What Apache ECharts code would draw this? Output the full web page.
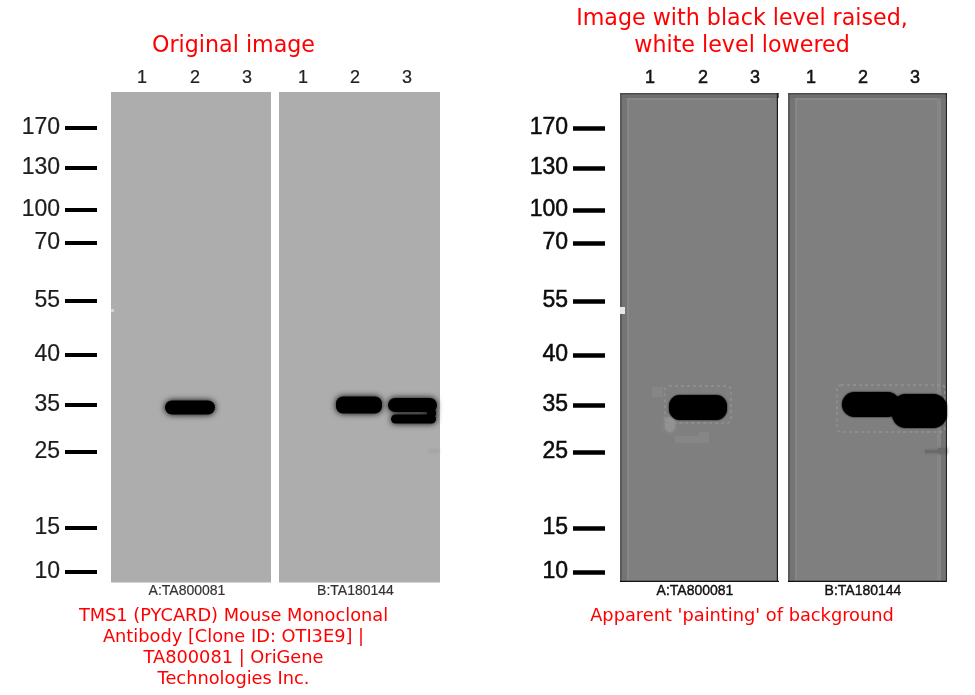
<!DOCTYPE html>
<html><head><meta charset="utf-8">
<style>html,body{margin:0;padding:0;background:#fff}#c{width:975px;height:695px}</style>
<script src="https://cdn.jsdelivr.net/npm/echarts@6/dist/echarts.min.js"></script>
</head><body><div id="c"></div>
<script>
// Molecular-weight ladder: kDa and migration distance down the blot
const ladderKDa = [170,130,100,70,55,40,35,25,15,10];
const ladderMigration = [36,76,118,151,209,263,313,360,436,480];
const laneNames = ['1','2','3'];
const lanesA = [31,84,136];
const lanesB = [24,76,128];
const lanesRightA = [30,83,135];
const lanesRightB = [23,75,127];
// Bands: [from, to (across blot), top, bottom (migration)]
const bandsOrigA = [[54,104,308.5,322.5]];
const bandsOrigB = [[57,103,304.5,321.5],[109,158,306,320],[112,157,322.5,331.5],[148,157,316,326]];
const bandsRaisedA = [[49,107,303,328]];
const bandsRaisedB = [[54,112,300,325],[104,159,302,336]];
// Speckled halos and faint patches in the contrast-stretched image
const halosA = [[45,111,294,331]];
const halosB = [[49,157,293,340]];
const patchesLightA = [[32,43,295,305],[55,80,344,351],[79,89,340,351]];
const blobLightA = [[45,55,325,340]];
const smudgesRightB = [[137,150,358,361],[150,159,356,362]];
const smudgeOrigB = [[150,160,357,361]];
const notchOrigA = [[0,3,217,220]];
const notchRaisedA = [[0,5,215,222]];
const edgeOuterLeft = [[0,2,1,490]];
const edgeInnerLeft = [[2,7,1,490]];
const edgeLightLeft = [[7,9,8,490]];
const edgeRightBStrip = [[149,153,8,490]];
const edgeRightBLight = [[153,157,1,490]];
const edgeTopDark = [[0,159,1,2.5]];
const edgeTopMid = [[0,159,2.5,6]];
const edgeTopLight = [[7,150,6,8]];
const frameBottom = [[0,159,488.7,490]];
const frameRight = [[156.8,158,1,490]];
const frameRightB = [[157.8,159,1,490]];

const bgOrig = '#adadad', bgRaised = '#7f7f7f';

function rects(gridIdx, data, style, shapeR, z){
  return {type:'custom', xAxisIndex:gridIdx, yAxisIndex:gridIdx, z:z||3, silent:true,
    data, encode:{x:[0,1], y:[2,3]},
    renderItem(params, api){
      const a = api.coord([api.value(0), api.value(2)]);
      const b = api.coord([api.value(1), api.value(3)]);
      const w = b[0]-a[0], h = b[1]-a[1];
      return {type:'rect', shape:{x:a[0],y:a[1],width:w,height:h,r:shapeR?Math.min(h/2,shapeR):0}, style};
    }};
}

const panels = [
  {left:111,right:271,top:92,bottom:582.5,min:0,max:490.5,bg:bgOrig,lanes:lanesA,lane:'#222',margin:5,heavy:0.2},
  {left:279,right:440,top:92,bottom:582.5,min:0,max:490.5,bg:bgOrig,lanes:lanesB,lane:'#222',margin:5,heavy:0.2},
  {left:620,right:778,top:93,bottom:582,min:1,max:490,bg:bgRaised,lanes:lanesRightA,lane:'#111',margin:6,heavy:0.5},
  {left:788,right:947,top:93,bottom:582,min:1,max:490,bg:bgRaised,lanes:lanesRightB,lane:'#111',margin:6,heavy:0.5}
];
const ladders = [
  {left:65,width:32,top:92,height:490.5,min:0,max:490.5,tick:4,color:'#1c1c1c',heavy:0.2},
  {left:573,width:32,top:93,height:489,min:1,max:490,tick:4.5,color:'#0c0c0c',heavy:0.5}
];
const toKDa = v => { const i = ladderMigration.indexOf(v); return i<0?'':String(ladderKDa[i]); };

const option = {
  animation:false, backgroundColor:'#fff',
  grid: panels.map(p=>({left:p.left,top:p.top,width:p.right-p.left,height:p.bottom-p.top,show:true,backgroundColor:p.bg,borderWidth:0}))
    .concat(ladders.map(l=>({left:l.left,top:l.top,width:l.width,height:l.height,show:false}))),
  xAxis: panels.map((p,i)=>({gridIndex:i,type:'value',position:'top',min:0,max:p.right-p.left,
    axisLine:{show:false},axisTick:{show:false},splitLine:{show:false},
    axisLabel:{show:true,customValues:p.lanes,margin:p.margin,fontFamily:'Liberation Sans',fontSize:18,color:p.lane,
      textBorderColor:p.lane,textBorderWidth:p.heavy,formatter:v=>laneNames[p.lanes.indexOf(v)]}}))
    .concat(ladders.map((l,i)=>({gridIndex:4+i,type:'value',show:false,min:0,max:1}))),
  yAxis: panels.map((p,i)=>({gridIndex:i,type:'value',inverse:true,min:p.min,max:p.max,show:false}))
    .concat(ladders.map((l,i)=>({gridIndex:4+i,type:'value',inverse:true,position:'left',min:l.min,max:l.max,
      axisLine:{show:false},splitLine:{show:false},
      axisTick:{show:true,inside:true,customValues:ladderMigration,length:32,lineStyle:{color:'#000',width:l.tick}},
      axisLabel:{show:true,inside:false,customValues:ladderMigration,margin:5,padding:[2,0,0,0],fontFamily:'Liberation Sans',fontSize:23,color:l.color,
        textBorderColor:l.color,textBorderWidth:l.heavy,formatter:toKDa}}))),
  series: [
    rects(0,bandsOrigA,{fill:'#000',shadowBlur:6,shadowColor:'#000'},7),
    rects(1,bandsOrigB,{fill:'#000',shadowBlur:6,shadowColor:'#000'},7),
    rects(1,smudgeOrigB,{fill:'#a6a6a6',shadowBlur:3,shadowColor:'#a6a6a6'},0,2),
    rects(0,notchOrigA,{fill:'#d4d4d4'},0,2),
    rects(2,edgeInnerLeft,{fill:'#747474'},0,2),
    rects(3,edgeInnerLeft,{fill:'#747474'},0,2),
    rects(2,edgeLightLeft,{fill:'#868686'},0,2),
    rects(3,edgeLightLeft,{fill:'#868686'},0,2),
    rects(3,edgeRightBStrip,{fill:'#868686'},0,2),
    rects(3,edgeRightBLight,{fill:'#747474'},0,2),
    rects(2,edgeTopMid,{fill:'#6e6e6e'},0,2),
    rects(3,edgeTopMid,{fill:'#6e6e6e'},0,2),
    rects(2,edgeTopLight,{fill:'#878787'},0,2),
    rects(3,edgeTopLight,{fill:'#878787'},0,2),
    rects(2,edgeOuterLeft,{fill:'#5a5a5a'},0,2),
    rects(3,edgeOuterLeft,{fill:'#5a5a5a'},0,2),
    rects(2,edgeTopDark,{fill:'#4a4a4a'},0,2),
    rects(3,edgeTopDark,{fill:'#4a4a4a'},0,2),
    rects(2,frameBottom,{fill:'#111'},0,3),
    rects(3,frameBottom,{fill:'#111'},0,3),
    rects(2,frameRight,{fill:'#1a1a1a'},0,3),
    rects(3,frameRightB,{fill:'#222'},0,3),
    rects(2,notchRaisedA,{fill:'#e8e8e8'},0,3),
    rects(2,patchesLightA,{fill:'#868686'},0,2),
    rects(2,blobLightA,{fill:'#929292',shadowBlur:5,shadowColor:'#929292'},5,2),
    rects(3,smudgesRightB,{fill:'#6a6a6a',shadowBlur:3,shadowColor:'#6a6a6a'},0,2),
    rects(2,halosA,{fill:'none',stroke:'#929292',lineWidth:1.5,lineDash:[3,3]},4,2),
    rects(3,halosB,{fill:'none',stroke:'#929292',lineWidth:1.5,lineDash:[3,3]},4,2),
    rects(2,bandsRaisedA,{fill:'#000',shadowBlur:2,shadowColor:'#000'},11),
    rects(3,bandsRaisedB,{fill:'#000',shadowBlur:2,shadowColor:'#000'},14)
  ],
  graphic: [
    {type:'text',x:233.5,y:46,style:{text:'Original image',align:'center',verticalAlign:'middle',fill:'#ff0000',fontFamily:'DejaVu Sans',fontSize:22.2}},
    {type:'text',x:742,y:32.5,style:{text:'Image with black level raised,\nwhite level lowered',align:'center',verticalAlign:'middle',lineHeight:27,fill:'#ff0000',fontFamily:'DejaVu Sans',fontSize:22.2}},
    {type:'text',x:233.5,y:648,style:{text:'TMS1 (PYCARD) Mouse Monoclonal\nAntibody [Clone ID: OTI3E9] |\nTA800081 | OriGene\nTechnologies Inc.',align:'center',verticalAlign:'middle',lineHeight:21,fill:'#ff0000',fontFamily:'DejaVu Sans',fontSize:17.8}},
    {type:'text',x:742,y:616,style:{text:"Apparent 'painting' of background",align:'center',verticalAlign:'middle',fill:'#ff0000',fontFamily:'DejaVu Sans',fontSize:17.8}},
    {type:'text',x:187,y:591.5,style:{text:'A:TA800081',align:'center',verticalAlign:'middle',fill:'#333',stroke:'#333',lineWidth:0.2,fontFamily:'Liberation Sans',fontSize:14}},
    {type:'text',x:355.5,y:591.5,style:{text:'B:TA180144',align:'center',verticalAlign:'middle',fill:'#333',stroke:'#333',lineWidth:0.2,fontFamily:'Liberation Sans',fontSize:14}},
    {type:'text',x:695,y:591.5,style:{text:'A:TA800081',align:'center',verticalAlign:'middle',fill:'#111',stroke:'#111',lineWidth:0.4,fontFamily:'Liberation Sans',fontSize:14}},
    {type:'text',x:863,y:591.5,style:{text:'B:TA180144',align:'center',verticalAlign:'middle',fill:'#111',stroke:'#111',lineWidth:0.4,fontFamily:'Liberation Sans',fontSize:14}}
  ]
};
echarts.init(document.getElementById('c'),null,{renderer:'canvas'}).setOption(option);
</script></body></html>
